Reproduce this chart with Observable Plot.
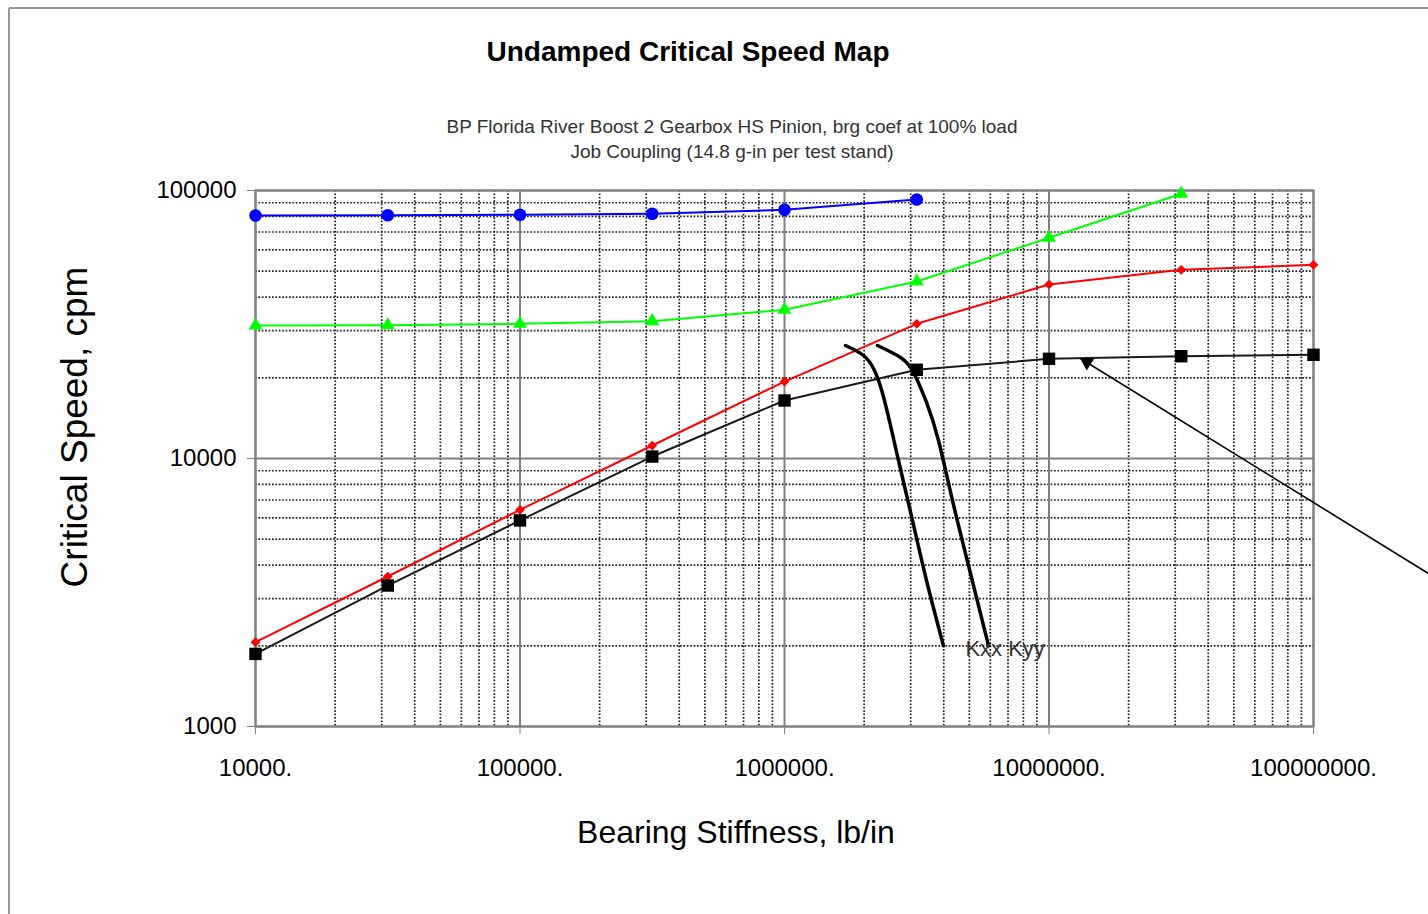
<!DOCTYPE html>
<html><head><meta charset="utf-8">
<script src="https://cdn.jsdelivr.net/npm/d3@7"></script>
<script src="https://cdn.jsdelivr.net/npm/@observablehq/plot@0.6"></script>
<style>
body{margin:0;background:#fff;}
#wrap{position:relative;width:1428px;height:914px;overflow:hidden;background:#fff;}
#wrap svg{position:absolute;left:0;top:0;}
</style></head><body><div id="wrap"></div>
<script>
// ---- data ----
const stiffness = [1e4, 31623, 1e5, 316228, 1e6, 3162278, 1e7, 31622777, 1e8]; // lb/in
const mode1 = [1866, 3357, 5875, 10170, 16460, 21430, 23550, 24080, 24370];      // black squares
const mode2 = [2064, 3628, 6436, 11180, 19370, 31810, 44600, 50600, 52800];      // red diamonds
const mode3 = [31360, 31400, 31810, 32530, 35900, 45750, 66600, 97200];          // green triangles
const mode4 = [80700, 80800, 81200, 81900, 84700, 92600];                        // blue circles

const kxxK = [1.70e6, 1.99e6, 2.189e6, 2.388e6, 2.698e6, 3.047e6, 3.443e6, 3.99e6];
const kxxN = [26400, 24230, 21300, 16460, 9830, 5871, 3506, 2000];
const kyyK = [2.247e6, 2.746e6, 3.074e6, 3.443e6, 3.821e6, 4.317e6, 4.962e6, 5.91e6];
const kyyN = [26400, 23820, 20940, 16180, 11670, 6970, 3988, 2000];

const curveLabel = "Kxx Kyy";
const curveLabelAt = [4.83e6, 2000];
const arrowFrom = [2.72e8, 3723];
const arrowTo = [1.315e7, 23610];

const xMajor = [1e4, 1e5, 1e6, 1e7, 1e8];
const yMajor = [1000, 10000, 100000];
const minorMult = [2, 3, 4, 5, 6, 7, 8, 9];
const xTickLabels = ["10000.", "100000.", "1000000.", "10000000.", "100000000."];
const yTickLabels = ["1000", "10000", "100000"];

const titleText = "Undamped Critical Speed Map";
const subtitle1 = "BP Florida River Boost 2 Gearbox HS Pinion, brg coef at 100% load";
const subtitle2 = "Job Coupling (14.8 g-in per test stand)";
const xLabel = "Bearing Stiffness, lb/in";
const yLabel = "Critical Speed, cpm";

// ---- derived tables ----
const xMinor = xMajor.slice(0, -1).flatMap(d => minorMult.map(m => d * m));
const yMinor = yMajor.slice(0, -1).flatMap(d => minorMult.map(m => d * m));
const series = (ys) => ys.map((n, i) => ({k: stiffness[i], n}));
const s1 = series(mode1), s2 = series(mode2), s3 = series(mode3), s4 = series(mode4);
const kxx = kxxK.map((k, i) => ({k, n: kxxN[i]}));
const kyy = kyyK.map((k, i) => ({k, n: kyyN[i]}));

const chart = Plot.plot({
  width: 1428, height: 914,
  marginLeft: 255, marginRight: 115, marginTop: 190, marginBottom: 188,
  style: {fontFamily: "'Liberation Sans', Arial, sans-serif", background: "transparent", color: "#000"},
  x: {type: "log", domain: [1e4, 1e8]},
  y: {type: "log", domain: [1000, 100000]},
  marks: [
    Plot.ruleX(xMinor, {stroke: "#222", strokeWidth: 1.7, strokeDasharray: "1.7,1.7"}),
    Plot.ruleY(yMinor, {stroke: "#222", strokeWidth: 1.7, strokeDasharray: "1.7,1.7"}),
    Plot.ruleX(xMajor, {stroke: "#808080", strokeWidth: 2}),
    Plot.ruleY(yMajor, {stroke: "#808080", strokeWidth: 2}),
    Plot.frame({stroke: "#808080", strokeWidth: 2}),
    Plot.axisX({ticks: xMajor, tickFormat: (d) => xTickLabels[xMajor.indexOf(d)], tickSize: 8, tickPadding: 24, fontSize: 24, stroke: "#808080", fill: "#000", label: null}),
    Plot.axisY({ticks: yMajor, tickFormat: (d) => yTickLabels[yMajor.indexOf(d)], tickSize: 8, tickPadding: 11, fontSize: 24, stroke: "#808080", fill: "#000", label: null}),
    // series
    Plot.line(s4, {x: "k", y: "n", stroke: "#0000ff", strokeWidth: 2}),
    Plot.dot(s4, {x: "k", y: "n", symbol: "circle", r: 6.3, fill: "#0000ff"}),
    Plot.line(s3, {x: "k", y: "n", stroke: "#00ff00", strokeWidth: 2}),
    Plot.dot(s3, {x: "k", y: "n", symbol: "triangle", r: 5.2, fill: "#00ff00"}),
    Plot.line(s2, {x: "k", y: "n", stroke: "#ff0000", strokeWidth: 2}),
    Plot.dot(s2, {x: "k", y: "n", symbol: "diamond2", r: 4.4, fill: "#ff0000"}),
    Plot.line(s1, {x: "k", y: "n", stroke: "#1a1a1a", strokeWidth: 2}),
    Plot.dot(s1, {x: "k", y: "n", symbol: "square", r: 7, fill: "#000"}),
    // bearing stiffness curves
    Plot.line(kxx, {x: "k", y: "n", stroke: "#000", strokeWidth: 3.5, curve: "natural"}),
    Plot.line(kyy, {x: "k", y: "n", stroke: "#000", strokeWidth: 3.5, curve: "natural"}),
    Plot.text([curveLabel], {x: () => curveLabelAt[0], y: () => curveLabelAt[1], text: d => d, textAnchor: "start", dy: 3, fontSize: 22, fill: "#333"}),
    // annotation arrow
    Plot.link([0], {x1: () => arrowFrom[0], y1: () => arrowFrom[1], x2: () => arrowTo[0], y2: () => arrowTo[1], stroke: "#000", strokeWidth: 1.6}),
    Plot.dot([0], {x: () => arrowTo[0], y: () => arrowTo[1], symbol: "triangle", r: 5.2, fill: "#000", rotate: -58, dx: 6.5, dy: 4})
  ]
});
document.getElementById("wrap").appendChild(chart);

// ---- titles, axis labels, border (overlay) ----
const ov = d3.select("#wrap").append("svg")
  .attr("width", 1428).attr("height", 914)
  .style("pointer-events", "none")
  .attr("font-family", "'Liberation Sans', Arial, sans-serif");
ov.append("line").attr("x1", 9).attr("y1", 8).attr("x2", 1428).attr("y2", 8).attr("stroke", "#999").attr("stroke-width", 2);
ov.append("line").attr("x1", 9).attr("y1", 8).attr("x2", 9).attr("y2", 914).attr("stroke", "#999").attr("stroke-width", 2);
ov.append("text").attr("x", 688).attr("y", 61).attr("text-anchor", "middle").attr("font-size", 28).attr("font-weight", "bold").attr("fill", "#000").text(titleText);
ov.append("text").attr("x", 732).attr("y", 133).attr("text-anchor", "middle").attr("font-size", 19).attr("fill", "#333").text(subtitle1);
ov.append("text").attr("x", 732).attr("y", 158).attr("text-anchor", "middle").attr("font-size", 19).attr("fill", "#333").text(subtitle2);
ov.append("text").attr("x", 736).attr("y", 843).attr("text-anchor", "middle").attr("font-size", 32).attr("fill", "#000").text(xLabel);
ov.append("text").attr("transform", "translate(87,427) rotate(-90)").attr("text-anchor", "middle").attr("font-size", 37).attr("fill", "#000").text(yLabel);
</script>
</body></html>
